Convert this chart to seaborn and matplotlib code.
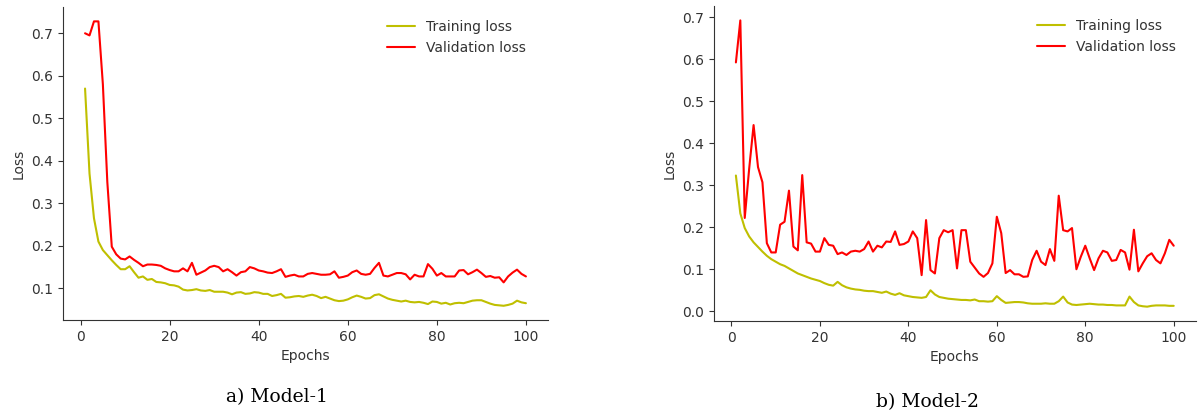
import numpy as np
import pandas as pd
import matplotlib
matplotlib.use("Agg")
import matplotlib.pyplot as plt
import seaborn as sns

sns.set_style('ticks')
plt.rcParams.update({
    'font.family': ['DejaVu Sans'],
    'font.size': 10,
    'axes.labelsize': 10,
    'xtick.labelsize': 10,
    'ytick.labelsize': 10,
    'legend.fontsize': 10,
    'text.color': '#333333',
    'axes.labelcolor': '#333333',
    'xtick.color': '#333333',
    'ytick.color': '#333333',
    'axes.edgecolor': '#333333',
})

epochs = list(range(1, 101))

# Model-1
train_loss_1 = [
    0.570, 0.370, 0.265, 0.210, 0.190, 0.178, 0.166, 0.155, 0.145, 0.145,
    0.152, 0.138, 0.125, 0.128, 0.120, 0.122, 0.115, 0.114, 0.112, 0.108,
    0.107, 0.104, 0.097, 0.095, 0.096, 0.098, 0.095, 0.094, 0.096, 0.092,
    0.092, 0.092, 0.090, 0.086, 0.090, 0.091, 0.087, 0.088, 0.091, 0.090,
    0.087, 0.087, 0.082, 0.084, 0.087, 0.078, 0.079, 0.081, 0.082, 0.080,
    0.083, 0.085, 0.082, 0.077, 0.080, 0.076, 0.072, 0.070, 0.071, 0.074,
    0.079, 0.083, 0.080, 0.076, 0.077, 0.084, 0.086, 0.081, 0.076, 0.073,
    0.071, 0.069, 0.071, 0.068, 0.067, 0.068, 0.066, 0.063, 0.069, 0.068,
    0.064, 0.066, 0.062, 0.065, 0.066, 0.065, 0.068, 0.071, 0.072, 0.072,
    0.068, 0.064, 0.061, 0.060, 0.059, 0.061, 0.064, 0.071, 0.067, 0.065,
]
val_loss_1 = [
    0.700, 0.695, 0.728, 0.728, 0.580, 0.350, 0.198, 0.180, 0.170, 0.168,
    0.175, 0.167, 0.160, 0.152, 0.156, 0.156, 0.155, 0.153, 0.147, 0.143,
    0.140, 0.140, 0.147, 0.140, 0.160, 0.132, 0.137, 0.142, 0.150, 0.153,
    0.150, 0.140, 0.145, 0.138, 0.130, 0.138, 0.140, 0.150, 0.147, 0.142,
    0.140, 0.137, 0.136, 0.140, 0.145, 0.127, 0.130, 0.132, 0.128, 0.128,
    0.134, 0.136, 0.134, 0.132, 0.132, 0.133, 0.140, 0.125, 0.127, 0.130,
    0.138, 0.142, 0.134, 0.132, 0.134, 0.148, 0.160, 0.130, 0.128, 0.132,
    0.136, 0.136, 0.133, 0.121, 0.132, 0.128, 0.128, 0.157, 0.146, 0.130,
    0.136, 0.128, 0.128, 0.128, 0.142, 0.143, 0.133, 0.138, 0.144, 0.136,
    0.127, 0.129, 0.125, 0.126, 0.114, 0.128, 0.137, 0.144, 0.134, 0.128,
]

# Model-2
train_loss_2 = [
    0.323, 0.233, 0.198, 0.178, 0.164, 0.153, 0.142, 0.132, 0.124, 0.118,
    0.112, 0.108, 0.102, 0.096, 0.090, 0.086, 0.082, 0.078, 0.075, 0.072,
    0.067, 0.063, 0.061, 0.070, 0.062, 0.057, 0.054, 0.052, 0.051, 0.049,
    0.048, 0.048, 0.046, 0.044, 0.047, 0.042, 0.039, 0.043, 0.038, 0.036,
    0.034, 0.033, 0.032, 0.034, 0.050, 0.040, 0.034, 0.032, 0.030, 0.029,
    0.028, 0.027, 0.027, 0.026, 0.028, 0.024, 0.024, 0.023, 0.024, 0.036,
    0.027, 0.020, 0.021, 0.022, 0.022, 0.021, 0.019, 0.018, 0.018, 0.018,
    0.019, 0.018, 0.018, 0.024, 0.035, 0.021, 0.016, 0.015, 0.016, 0.017,
    0.018, 0.017, 0.016, 0.016, 0.015, 0.015, 0.014, 0.014, 0.014, 0.035,
    0.022, 0.014, 0.012, 0.011, 0.013, 0.014, 0.014, 0.014, 0.013, 0.013,
]
val_loss_2 = [
    0.592, 0.692, 0.222, 0.339, 0.443, 0.343, 0.307, 0.162, 0.140, 0.140,
    0.206, 0.213, 0.287, 0.154, 0.145, 0.324, 0.164, 0.161, 0.142, 0.142,
    0.174, 0.158, 0.156, 0.136, 0.140, 0.134, 0.142, 0.144, 0.142, 0.148,
    0.166, 0.142, 0.156, 0.152, 0.166, 0.165, 0.190, 0.158, 0.160, 0.166,
    0.190, 0.174, 0.086, 0.217, 0.098, 0.090, 0.174, 0.193, 0.188, 0.193,
    0.102, 0.193, 0.193, 0.118, 0.104, 0.090, 0.082, 0.091, 0.114, 0.225,
    0.186, 0.091, 0.098, 0.088, 0.088, 0.082, 0.083, 0.122, 0.144, 0.118,
    0.110, 0.148, 0.120, 0.275, 0.193, 0.190, 0.198, 0.100, 0.130, 0.156,
    0.126, 0.098, 0.126, 0.144, 0.140, 0.120, 0.122, 0.146, 0.140, 0.099,
    0.194, 0.095, 0.114, 0.131, 0.138, 0.122, 0.114, 0.138, 0.170, 0.156,
]

captions = ["a) Model-1", "b) Model-2"]

fig = plt.figure(figsize=(11.98, 4.16), dpi=100)
ax1 = fig.add_axes([0.0526, 0.2308, 0.4048, 0.752])
ax2 = fig.add_axes([0.596, 0.2284, 0.402, 0.757])

panels = [(ax1, train_loss_1, val_loss_1, 0.981), (ax2, train_loss_2, val_loss_2, 0.985)]
for ax, tr, va, leg_x in panels:
    sns.lineplot(x=epochs, y=tr, ax=ax, color='y', linewidth=1.5, label='Training loss')
    sns.lineplot(x=epochs, y=va, ax=ax, color='r', linewidth=1.5, label='Validation loss')
    ax.set_xlabel("Epochs")
    ax.set_ylabel("Loss")
    ax.set_xticks([0, 20, 40, 60, 80, 100])
    ax.legend(loc='upper right', frameon=False, bbox_to_anchor=(leg_x, 1.0))
    sns.despine(ax=ax)

ax1.set_yticks([0.1, 0.2, 0.3, 0.4, 0.5, 0.6, 0.7])
ax2.set_yticks([0.0, 0.1, 0.2, 0.3, 0.4, 0.5, 0.6, 0.7])

# captions under each panel
fig.text(277 / 1198, 1 - 397 / 416, captions[0], ha='center', va='center',
         family='DejaVu Serif', fontsize=13.5, color='black')
fig.text(928 / 1198, 1 - 402 / 416, captions[1], ha='center', va='center',
         family='DejaVu Serif', fontsize=13.5, color='black')

plt.savefig("out.png", dpi=100)
plt.close()
